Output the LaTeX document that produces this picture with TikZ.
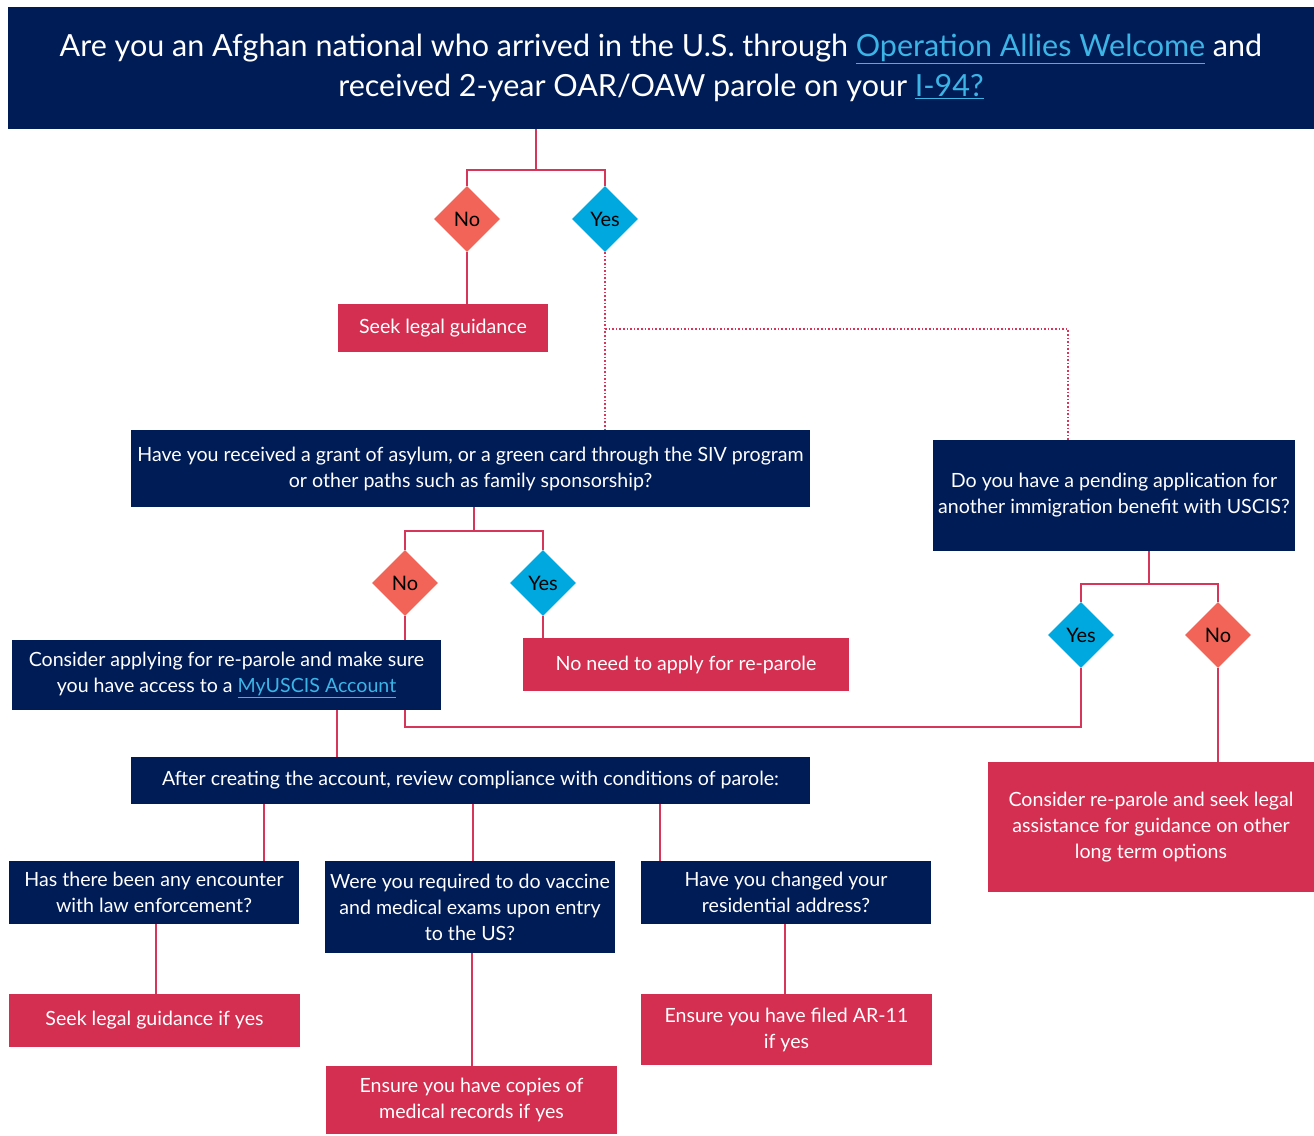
\documentclass[tikz,border=0pt]{standalone}
\usepackage{fontspec}
\setmainfont{Lato}
\usepackage{tikz}
\usetikzlibrary{shapes.geometric}

\definecolor{navy}{RGB}{0,28,87}
\definecolor{boxred}{RGB}{212,46,80}
\definecolor{linered}{RGB}{214,54,90}
\definecolor{coral}{RGB}{241,100,87}
\definecolor{skyblue}{RGB}{0,168,224}
\definecolor{linkblue}{RGB}{60,180,229}

\newcommand{\weblink}[1]{\textcolor{linkblue}{\underline{#1}}}

\tikzset{
  navybox/.style={rectangle, fill=navy, text=white, align=center, inner sep=0pt,
    font=\fontsize{19.6}{26}\selectfont},
  redbox/.style={rectangle, fill=boxred, text=white, align=center, inner sep=0pt,
    font=\fontsize{19.6}{26}\selectfont},
  nodiamond/.style={diamond, aspect=1, fill=coral, minimum size=66pt, inner sep=0pt,
    font=\fontsize{20}{22}\selectfont},
  yesdiamond/.style={nodiamond, fill=skyblue},
  link/.style={draw=linered, line width=2pt},
  dotlink/.style={draw=linered, line width=1.6pt, dotted}
}

\begin{document}
\begin{tikzpicture}[x=1pt, y=-1pt]
        \useasboundingbox (0,0) rectangle (1314,1135);

        % question
        \node[navybox, minimum width=1306pt, minimum height=122pt,
              font=\fontsize{30.5}{40}\selectfont] (title) at (661,68)
             {Are you an Afghan national who arrived in the U.S. through \weblink{Operation Allies Welcome} and\\
              received 2-year OAR/OAW parole on your \weblink{I-94?}};

        % first answer
        \node[nodiamond] (noA) at (467,219) {No};
        \node[yesdiamond] (yesA) at (605,219) {Yes};
        \node[redbox, minimum width=210pt, minimum height=48pt] (seekA) at (443,328) {Seek legal guidance};

        % two questions after yes
        \node[navybox, minimum width=679pt, minimum height=77pt] (asylum) at (470.5,468.5)
             {Have you received a grant of asylum, or a green card through the SIV program\\
              or other paths such as family sponsorship?};
        \node[navybox, minimum width=362pt, minimum height=111pt] (uscis) at (1114,495.5)
             {Do you have a pending application for\\ another immigration benefit with USCIS?};

        \node[nodiamond] (noB) at (405,583) {No};
        \node[yesdiamond] (yesB) at (543,583) {Yes};
        \node[navybox, minimum width=429pt, minimum height=70pt] (consider) at (226.5,675)
             {Consider applying for re-parole and make sure\\ you have access to a \weblink{MyUSCIS Account}};
        \node[redbox, minimum width=326pt, minimum height=53pt] (noneed) at (686,664.5)
             {No need to apply for re-parole};

        \node[yesdiamond] (yesC) at (1081,635) {Yes};
        \node[nodiamond] (noC) at (1218,635) {No};
        \node[redbox, minimum width=326pt, minimum height=130pt] (reparole) at (1151,827)
             {Consider re-parole and seek legal\\ assistance for guidance on other\\ long term options};

        % compliance
        \node[navybox, minimum width=679pt, minimum height=47pt] (after) at (470.5,780.5)
             {After creating the account, review compliance with conditions of parole:};
        \node[navybox, minimum width=290pt, minimum height=63pt] (encounter) at (154,892.5)
             {Has there been any encounter\\ with law enforcement?};
        \node[navybox, minimum width=290pt, minimum height=92pt] (vaccine) at (470,907)
             {Were you required to do vaccine\\ and medical exams upon entry\\ to the US?};
        \node[navybox, minimum width=290pt, minimum height=63pt] (address) at (786,892.5)
             {Have you changed your\\ residential address?};
        \node[redbox, minimum width=291pt, minimum height=53pt] (seekB) at (154.5,1020.5)
             {Seek legal guidance if yes};
        \node[redbox, minimum width=291pt, minimum height=68pt] (copies) at (471.5,1100)
             {Ensure you have copies of\\ medical records if yes};
        \node[redbox, minimum width=291pt, minimum height=71pt] (ar) at (786.5,1029.5)
             {Ensure you have filed AR-11\\ if yes};

        % junctions
        \coordinate (jA) at (536,170);
        \coordinate (jB) at (605,329);
        \coordinate (jC) at (1068,329);
        \coordinate (jD) at (474,531);
        \coordinate (jE) at (1149,584);
        \coordinate (jF) at (405,727);
        \coordinate (jG) at (337,733);
        \coordinate (jH) at (264,830);
        \coordinate (jI) at (473,830);
        \coordinate (jK) at (660,830);
        \coordinate (jL) at (156,960);
        \coordinate (jM) at (472,1000);
        \coordinate (jN) at (785,960);

        % connectors
        \draw[link] (title.south -| jA) -- (jA) -| (noA.north);
        \draw[link] (jA) -| (yesA.north);
        \draw[link] (noA.south) -- (noA.south |- seekA.north);
        \draw[dotlink] (yesA.south) -- (yesA.south |- asylum.north);
        \draw[dotlink] (jB) -- (jC) -- (jC |- uscis.north);

        \draw[link] (asylum.south -| jD) -- (jD) -| (noB.north);
        \draw[link] (jD) -| (yesB.north);
        \draw[link] (noB.south) -- (noB.south |- consider.north);
        \draw[link] (yesB.south) -- (yesB.south |- noneed.north);

        \draw[link] (uscis.south -| jE) -- (jE) -| (yesC.north);
        \draw[link] (jE) -| (noC.north);
        \draw[link] (yesC.south) |- (jF) -- (jF |- consider.south);
        \draw[link] (noC.south) -- (noC.south |- reparole.north);

        \draw[link] (consider.south -| jG) -- (after.north -| jG);
        \draw[link] (after.south -| jH) -- (encounter.north -| jH);
        \draw[link] (after.south -| jI) -- (vaccine.north -| jI);
        \draw[link] (after.south -| jK) -- (address.north -| jK);
        \draw[link] (encounter.south -| jL) -- (seekB.north -| jL);
        \draw[link] (vaccine.south -| jM) -- (copies.north -| jM);
        \draw[link] (address.south -| jN) -- (ar.north -| jN);

\end{tikzpicture}
\end{document}
